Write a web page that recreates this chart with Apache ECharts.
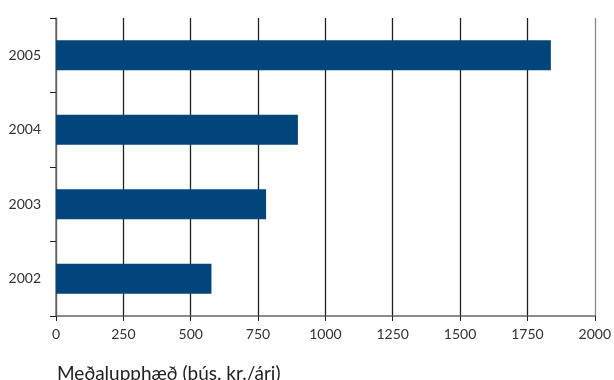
<!DOCTYPE html>
<html>
<head>
<meta charset="utf-8">
<script src="https://cdn.jsdelivr.net/npm/echarts@6/dist/echarts.min.js"></script>
<style>
  html, body { margin: 0; padding: 0; background: #fff; }
  #chart { width: 614px; height: 380px; }
</style>
</head>
<body>
<div id="chart"></div>
<script>
  // ár og meðalupphæð (þús. kr./ári)
  var years = ['2002', '2003', '2004', '2005']
  var amounts = [577, 780, 898, 1837]
  var xTicks = [0, 250, 500, 750, 1000, 1250, 1500, 1750, 2000]
  var axisName = 'Meðalupphæð (þús. kr./ári)'

  var chart = echarts.init(document.getElementById('chart'))
  chart.setOption({
    animation: false,
    textStyle: { fontFamily: 'Lato' },
    title: {
      text: axisName,
      left: 52,
      top: 359,
      textStyle: { fontSize: 19, fontWeight: 'normal', color: '#222', fontFamily: 'Lato' }
    },
    grid: { left: 56, right: 17, top: 18, bottom: 64 },
    xAxis: {
      type: 'value',
      min: xTicks[0],
      max: xTicks[xTicks.length - 1],
      interval: 250,
      axisLine: { show: true, lineStyle: { color: '#666', width: 1.5 } },
      axisTick: { show: true, length: 5, lineStyle: { color: '#222' } },
      axisLabel: { color: '#333', fontSize: 14, margin: 11, formatter: function (v) { return String(v) } },
      splitLine: {
        show: true,
        lineStyle: { color: ['#222', '#222', '#222', '#222', '#222', '#222', '#222', '#222', '#888'], width: 1.3 }
      }
    },
    yAxis: {
      type: 'category',
      data: years,
      axisLine: { show: true, lineStyle: { color: '#777', width: 1.5 } },
      axisTick: { show: true, length: 6, lineStyle: { color: '#222' } },
      axisLabel: { color: '#333', fontSize: 14, margin: 15 }
    },
    series: [{
      type: 'bar',
      data: amounts,
      barWidth: 30,
      itemStyle: { color: '#00467c' }
    }]
  })
</script>
</body>
</html>
